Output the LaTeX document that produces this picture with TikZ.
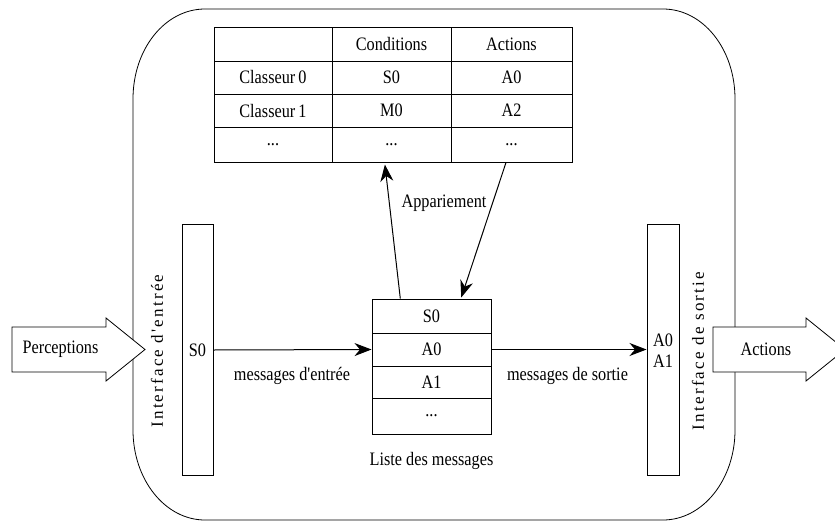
\documentclass[tikz,border=0pt]{standalone}
\usepackage{fontspec}
\setmainfont{Liberation Serif}[Ligatures=TeXOff, FakeStretch=0.855]
\newfontfamily\sidefont{Liberation Serif}[Ligatures=TeXOff, LetterSpace=13]
\usetikzlibrary{arrows.meta,calc}
\newcommand\cellellip{...}
\begin{document}
\begin{tikzpicture}[x=1pt,y=-1pt,
  every node/.style={font=\fontsize{19}{22}\selectfont, inner sep=0pt},
  cell/.style={draw, line width=1pt},
  bar/.style={draw, line width=1pt, minimum width=31, minimum height=251},
  frame/.style={line width=0.8pt},
  blockarrow/.style={draw, line width=0.8pt, fill=white},
  arr/.style={line width=1pt, -{Stealth[length=17pt,width=13pt,inset=5.5pt]}},
  vlabel/.style={rotate=90, font=\sidefont\fontsize{17}{20}\selectfont}]
\useasboundingbox (0,0) rectangle (835,522);

% outer rounded frame of the system
\draw[frame] (205,9) -- (663,9)
  .. controls (702.8,9) and (735,48.7) .. (735,99) -- (735,430)
  .. controls (735,479.7) and (702.8,520) .. (663,520) -- (205,520)
  .. controls (165.2,520) and (133,479.7) .. (133,430) -- (133,99)
  .. controls (133,48.7) and (165.2,9) .. (205,9) -- cycle;

% classifier table
\foreach \r/\yc/\h/\ta/\tb/\tc in {
    1/44/34/{}/{Conditions}/{Actions},
    2/77.5/33/{Classeur\,0}/{S0}/{A0},
    3/110.5/33/{Classeur\,1}/{M0}/{A2},
    4/144.5/35/{\cellellip}/{\cellellip}/{\cellellip}} {
  \node[cell, minimum width=118, minimum height=\h] (t\r1) at (273,\yc) {\ta};
  \node[cell, minimum width=119, minimum height=\h] (t\r2) at (391.5,\yc) {\tb};
  \node[cell, minimum width=121, minimum height=\h] (t\r3) at (511.5,\yc) {\tc};
}

% message list
\foreach \i/\yc/\h/\txt in {1/316/34/S0, 2/349.5/33/A0, 3/382/32/A1, 4/416/36/{\cellellip}}
  \node[cell, minimum width=119, minimum height=\h] (m\i) at (431.5,\yc) {\txt};
\node (listlbl) at (431.5,461) {Liste des messages};

% input and output interfaces
\node[bar] (inbar) at (197.5,349.5) {};
\node (ins0) at (197.5,350) {S0};
\node[vlabel] (inlbl) at (157,351) {Interface d'entrée};

\node[bar, minimum width=32] (outbar) at (663,349.5) {};
\node (outa0) at (663,340) {A0};
\node (outa1) at (663,361) {A1};
\node[vlabel] (outlbl) at (698,351) {Interface de sortie};

% block arrows for perceptions and actions
\draw[blockarrow] (12,327) -- (106,327) -- (106,318) -- (145,349.5)
  -- (106,381) -- (106,372) -- (12,372) -- cycle;
\node (perc) at (60.5,349.5) {Perceptions};
\draw[blockarrow] (713,327) -- (806,327) -- (806,318) -- (845,349.5)
  -- (806,381) -- (806,372) -- (713,372) -- cycle;
\node (act) at (766,349.5) {Actions};

% message flows
\draw[arr] (ins0.east -| inbar.east) -- (m2.west);
\node (inmsg) at (292,376) {messages d'entrée};
\draw[arr] (m2.east) -- (m2.east -| outbar.west);
\node (outmsg) at (567.5,376) {messages de sortie};

% matching between list and classifiers
\coordinate (upfrom) at ($(m1.north west)!0.24!(m1.north east)$);
\coordinate (upto) at ($(t42.south west)!0.445!(t42.south east)+(0,2)$);
\coordinate (downfrom) at ($(t43.south west)!0.455!(t43.south east)$);
\coordinate (downto) at ($(m1.north west)!0.748!(m1.north east)+(0,-1)$);
\draw[arr] (upfrom) -- (upto);
\draw[arr] (downfrom) -- (downto);
\node (match) at (444,203) {Appariement};
\end{tikzpicture}
\end{document}
